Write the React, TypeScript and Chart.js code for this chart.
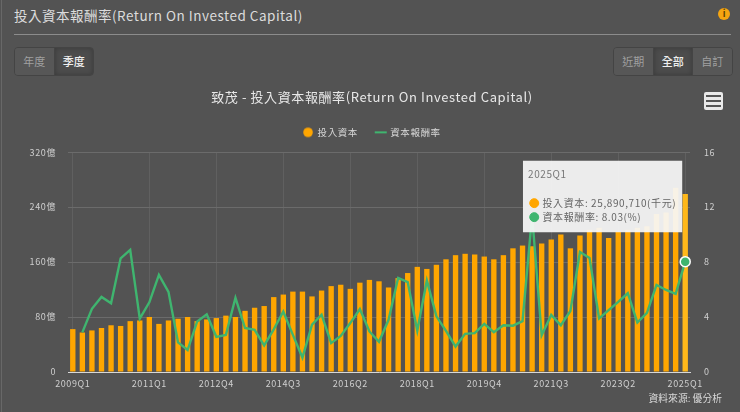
import React, { useEffect, useRef } from "react";
import { Chart, registerables, Tooltip } from "chart.js";

Chart.register(...registerables);

const FONT = '"Noto Sans CJK TC", "Noto Sans", sans-serif';

const categories: string[] = [];
const firstYear = 2009;
for (let y = firstYear; y <= 2025; y++) {
  for (const q of ["Q1", "Q2", "Q3", "Q4"]) {
    if (y === 2025 && q !== "Q1") continue;
    categories.push(`${y}${q}`);
  }
}

const labelledTicks = ["2009Q1", "2011Q1", "2012Q4", "2014Q3", "2016Q2", "2018Q1", "2019Q4", "2021Q3", "2023Q2", "2025Q1"];

const capital = [
  62.4, 57.5, 60.5, 64, 68, 67, 74, 75, 80, 70, 75, 77.5, 80, 74, 76.5, 78.5, 82, 80, 89, 93.5, 96,
  109, 112.7, 117, 117, 110, 118.5, 125, 127, 121, 130, 134, 132, 123, 136.6, 144, 153, 150, 156, 164, 170,
  172, 171, 168, 164, 170, 180, 184, 183, 187, 192.7, 200, 180, 198.5, 207, 210, 195, 204, 207, 210, 212,
  230, 232, 268, 258.9,
];

const roic = [
  null, 2.88, 4.6, 5.46, 5.0, 8.27, 8.88, 3.88, 5.07, 7.07, 5.83, 2.15, 1.6, 3.68, 4.2, 2.56, 2.7, 5.4, 3.2, 3.07, 1.93,
  3.1, 4.4, 2.7, 1.05, 3.44, 4.17, 2.1, 2.63, 3.56, 4.58, 2.95, 2.2, 3.8, 6.85, 6.54, 3.0, 6.66, 4.05, 3.0, 1.85,
  2.78, 2.83, 3.5, 2.9, 3.4, 3.37, 3.7, 11.4, 2.68, 4.15, 3.4, 4.44, 8.73, 8.3, 3.9, 4.5, 5.1, 5.73, 3.6, 4.3,
  6.34, 5.97, 5.68, 8.03,
];

const capitalThousands = ["25,890,710"];
const capitalName = "投入資本";
const roicName = "資本報酬率";
const chartTitle = "致茂 - 投入資本報酬率(Return On Invested Capital)";

const BAR = "#ffa600";
const LINE = "#3fb56f";

(Tooltip.positioners as any).fixedLeft = function (items: any[]) {
  if (!items.length) return false;
  const el = items[items.length - 1].element;
  return { x: el.x - 3, y: el.y - 103 };
};

const legendIcon = (kind: "dot" | "line", color: string) => {
  const c = document.createElement("canvas");
  c.width = 14;
  c.height = 12;
  const g = c.getContext("2d")!;
  g.fillStyle = color;
  if (kind === "dot") {
    g.beginPath();
    g.arc(7, 6, 4.8, 0, Math.PI * 2);
    g.fill();
  } else {
    g.fillRect(1, 5, 12, 2);
  }
  return c;
};

const spacingPlugin = {
  id: "spacing",
  beforeLayout(chart: any) {
    chart.ctx.letterSpacing = "0.6px";
    const legend = chart.legend;
    if (legend && !legend.__patched) {
      legend.__patched = true;
      const fit = legend.fit;
      legend.fit = function () {
        fit.call(this);
        this.height += 5;
      };
    }
  },
};

const abs = (s: React.CSSProperties): React.CSSProperties => ({ position: "absolute", ...s });

function Group({ left, items, active }: { left: number; items: string[]; active: number }) {
  return (
    <div style={abs({ left, top: 47, height: 29, display: "flex", border: "1px solid #444", borderRadius: 4, boxSizing: "border-box", overflow: "hidden" })}>
      {items.map((t, i) => (
        <div
          key={t}
          style={{
            width: 38.5,
            height: 27,
            lineHeight: "27px",
            textAlign: "center",
            fontSize: 11,
            color: i === active ? "#eeeeee" : "#a0a0a0",
            fontWeight: i === active ? 500 : 400,
            background: i === active ? "#4c4c4c" : "#575757",
            boxShadow: i === active ? "inset 0 0 5px rgba(0,0,0,0.25)" : undefined,
            borderLeft: i > 0 ? "1px solid #444" : undefined,
          }}
        >
          {t}
        </div>
      ))}
    </div>
  );
}

export default function App() {
  const ref = useRef<HTMLCanvasElement>(null);

  useEffect(() => {
    document.body.style.margin = "0";
    document.body.style.background = "#535353";
    const chart = new Chart(ref.current!, {
      type: "bar",
      plugins: [spacingPlugin],
      data: {
        labels: categories,
        datasets: [
          {
            type: "line",
            label: roicName,
            data: roic,
            yAxisID: "y1",
            borderColor: LINE,
            backgroundColor: LINE,
            borderWidth: 2.4,
            pointRadius: 0,
            pointHoverRadius: 5,
            pointHoverBorderWidth: 1.5,
            pointHoverBorderColor: "#ffffff",
            pointHoverBackgroundColor: LINE,
            tension: 0,
            order: 0,
          },
          {
            type: "bar",
            label: capitalName,
            data: capital,
            yAxisID: "y",
            backgroundColor: BAR,
            hoverBackgroundColor: "#ffb81a",
            barPercentage: 0.56,
            categoryPercentage: 1,
            order: 1,
          },
        ] as any,
      },
      options: {
        responsive: false,
        animation: false,
        events: [],
        interaction: { mode: "index", intersect: false },
        scales: {
          x: {
            offset: true,
            border: { color: "#d8d8d8", width: 1 },
            grid: {
              offset: false,
              drawTicks: false,
              color: (c: any) => (labelledTicks.includes(categories[c.index]) ? "#606060" : "rgba(0,0,0,0)"),
            },
            ticks: {
              autoSkip: false,
              maxRotation: 0,
              padding: 6,
              color: "#cfcfcf",
              font: { family: FONT, size: 9 },
              callback: (_v: any, i: number) => (labelledTicks.includes(categories[i]) ? categories[i] : ""),
            },
            afterFit: (s: any) => {
              s.height = 40;
            },
          },
          y: {
            position: "left",
            min: 0,
            max: 320,
            border: { display: false },
            grid: { color: "#6b6b6b", drawTicks: false },
            ticks: {
              stepSize: 80,
              padding: 12,
              color: "#cfcfcf",
              font: { family: FONT, size: 9 },
              callback: (v: any) => (v === 0 ? "0" : `${v}億`),
            },
            afterFit: (s: any) => {
              s.width = 66;
            },
          },
          y1: {
            position: "right",
            min: 0,
            max: 16,
            border: { display: false },
            grid: { drawOnChartArea: false, drawTicks: false },
            ticks: {
              stepSize: 4,
              padding: 14,
              color: "#cfcfcf",
              font: { family: FONT, size: 9 },
            },
            afterFit: (s: any) => {
              s.width = 52;
            },
          },
        },
        plugins: {
          title: {
            display: true,
            text: chartTitle,
            color: "#e8e8e8",
            font: { family: FONT, size: 13, weight: "normal" },
            padding: { top: 9, bottom: 5 },
          },
          legend: {
            display: true,
            labels: {
              color: "#d8d8d8",
              font: { family: FONT, size: 9.5 },
              usePointStyle: true,
              boxHeight: 10,
              padding: 18,
              generateLabels: (c: any) =>
                [...c.data.datasets].reverse().map((d: any) => ({
                  text: d.label,
                  datasetIndex: c.data.datasets.indexOf(d),
                  fontColor: "#d8d8d8",
                  pointStyle: d.type === "bar" ? legendIcon("dot", BAR) : legendIcon("line", LINE),
                })),
            },
          },
          tooltip: {
            enabled: true,
            position: "fixedLeft" as any,
            xAlign: "right",
            yAlign: "top",
            caretSize: 0,
            cornerRadius: 0,
            backgroundColor: "rgba(247,247,247,0.93)",
            titleColor: "#777777",
            bodyColor: "#666666",
            titleFont: { family: FONT, size: 10, weight: "normal" },
            bodyFont: { family: FONT, size: 10 },
            titleMarginBottom: 16.5,
            bodySpacing: 2,
            padding: { left: 5, right: 6, top: 8, bottom: 9 },
            usePointStyle: true,
            boxWidth: 12.5,
            boxHeight: 9,
            itemSort: (a: any, b: any) => b.datasetIndex - a.datasetIndex,
            callbacks: {
              label: (c: any) =>
                c.dataset.type === "bar"
                  ? `${capitalName}: ${capitalThousands[0]}(千元)`
                  : `${roicName}: ${c.parsed.y.toFixed(2)}(%)`,
              labelColor: (c: any) => ({
                borderColor: c.dataset.type === "bar" ? BAR : LINE,
                backgroundColor: c.dataset.type === "bar" ? BAR : LINE,
              }),
              labelPointStyle: () => ({ pointStyle: "circle", rotation: 0 }),
            },
          },
        },
      },
    } as any);

    const last = categories.length - 1;
    const active = [
      { datasetIndex: 1, index: last },
      { datasetIndex: 0, index: last },
    ];
    chart.setActiveElements(active);
    chart.tooltip!.setActiveElements(active, { x: 0, y: 0 });
    chart.update();
    return () => chart.destroy();
  }, []);

  return (
    <div style={{ position: "relative", width: 740, height: 412, background: "#535353", overflow: "hidden", fontFamily: FONT }}>
      <div style={abs({ left: 1, top: 0, width: 1, height: 412, background: "#686868" })} />
      <div style={abs({ left: 14, top: 5, fontSize: 13.5, color: "#dcdcdc", letterSpacing: 0.5, lineHeight: "20px", whiteSpace: "nowrap" })}>
        投入資本報酬率(Return On Invested Capital)
      </div>
      <div style={abs({ left: 14, top: 34, width: 717, height: 1, background: "#8c8c8c" })} />
      <div
        style={abs({ left: 718, top: 8, width: 12, height: 12, borderRadius: 6, background: "#f5a511", color: "#5a4100", fontSize: 9, lineHeight: "12px", textAlign: "center", fontWeight: 700 })}
      >
        i
      </div>
      <Group left={14} items={["年度", "季度"]} active={1} />
      <Group left={613} items={["近期", "全部", "自訂"]} active={1} />
      <canvas ref={ref} width={740} height={332} style={abs({ left: 2, top: 80, width: 740, height: 332, display: "block" })} />
      <div style={abs({ left: 704, top: 92, width: 19, height: 18, borderRadius: 2, background: "#e9e9e9" })}>
        {[3, 8, 13].map((t) => (
          <div key={t} style={abs({ left: 2, top: t, width: 15, height: 2, background: "#555" })} />
        ))}
      </div>
      <div style={abs({ right: 18, top: 391, fontSize: 9.8, color: "#d8d8d8", lineHeight: "14px", whiteSpace: "nowrap" })}>資料來源: 優分析</div>
    </div>
  );
}
